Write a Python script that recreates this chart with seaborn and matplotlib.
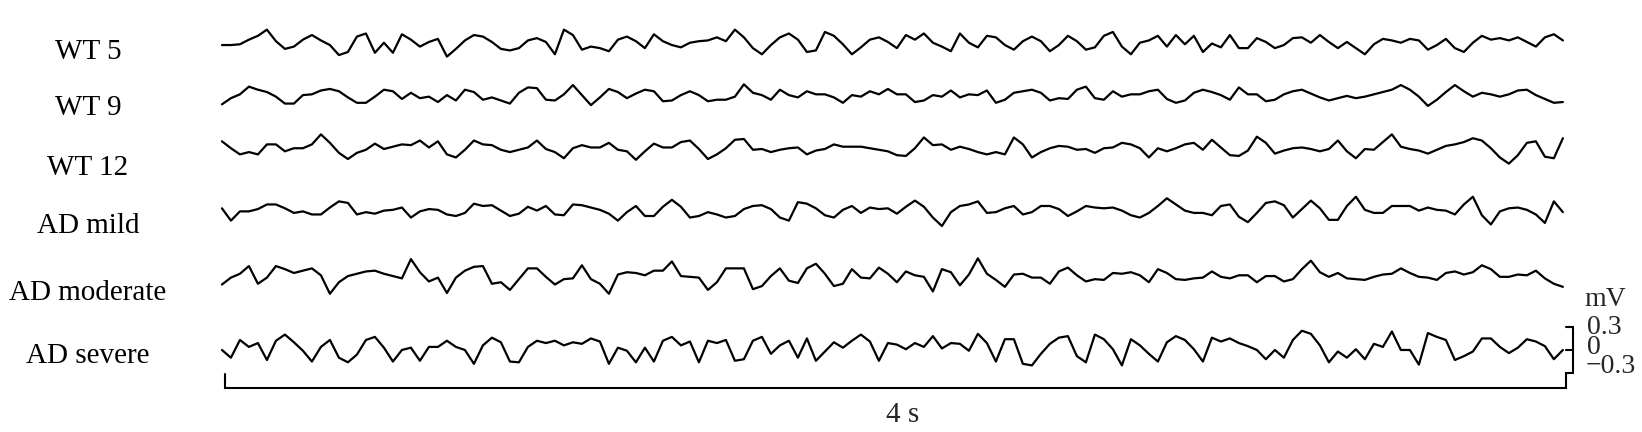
"""
EEG example traces (WT vs AD), 4 s window, with mV / time scale bars.
"""
import matplotlib
matplotlib.use("Agg")
import matplotlib.pyplot as plt
import numpy as np
import pandas as pd
import seaborn as sns

# ---- data (mV), one value every ~27 ms ----
labels = ["WT 5", "WT 9", "WT 12", "AD mild", "AD moderate", "AD severe"]

wt5 = [-0.03, -0.03, -0.02, 0.04, 0.09, 0.17, 0.02, -0.08, -0.05, 0.04, 0.10, 0.03, -0.03, -0.16, -0.12, 0.08, 0.12, -0.13, 0.00, -0.13, 0.11, 0.04, -0.05, 0.01, 0.05,
       -0.18, -0.08, 0.03, 0.10, 0.08, 0.01, -0.08, -0.10, -0.07, 0.03, 0.06, 0.01, -0.15, 0.17, 0.10, -0.09, -0.05, -0.07, -0.11, 0.04, 0.08, 0.02, -0.07, 0.11, 0.02,
       -0.03, -0.06, 0.00, 0.02, 0.03, 0.07, 0.02, 0.17, 0.07, -0.07, -0.15, -0.03, 0.07, 0.12, 0.04, -0.12, -0.10, 0.14, 0.09, -0.02, -0.15, -0.06, 0.04, 0.07, 0.01, -0.07,
       0.10, 0.04, 0.12, 0.00, -0.05, -0.11, 0.12, 0.00, -0.06, 0.09, 0.07, -0.03, -0.09, 0.02, 0.08, 0.02, -0.11, -0.03, 0.09, 0.02, -0.09, -0.06, 0.09, 0.14, -0.05,
       -0.15, 0.00, 0.03, 0.09, -0.05, 0.10, -0.02, 0.09, -0.12, -0.01, -0.06, 0.10, -0.07, -0.07, 0.06, 0.01, -0.07, -0.03, 0.06, 0.07, 0.00, 0.10, 0.01, -0.07, 0.01, -0.07,
       -0.15, -0.02, 0.05, 0.03, 0.00, 0.05, 0.03, -0.09, -0.03, 0.05, -0.07, -0.12, 0.00, 0.09, 0.04, 0.06, 0.03, 0.07, 0.01, -0.05, 0.07, 0.11, 0.03]

wt9 = [-0.10, -0.02, 0.03, 0.13, 0.09, 0.06, 0.00, -0.09, -0.09, 0.02, 0.03, 0.08, 0.10, 0.07, -0.01, -0.08, -0.08, 0.00, 0.09, 0.07, -0.03, 0.05, -0.02, 0.00, -0.07,
       0.02, -0.05, 0.09, 0.06, -0.04, -0.01, -0.05, -0.09, 0.05, 0.12, 0.11, -0.04, -0.05, 0.03, 0.15, 0.02, -0.11, -0.01, 0.10, 0.06, -0.02, 0.04, 0.09, 0.07, -0.06,
       -0.05, 0.02, 0.07, 0.02, -0.06, -0.04, -0.04, 0.00, 0.16, 0.05, 0.02, -0.04, 0.09, 0.02, -0.01, 0.07, 0.03, 0.03, -0.01, -0.08, 0.02, 0.00, 0.07, 0.03, 0.10, 0.03,
       0.03, -0.07, -0.05, 0.02, 0.00, 0.08, -0.01, 0.03, 0.02, 0.08, -0.08, -0.04, 0.05, 0.07, 0.09, 0.05, -0.05, -0.02, -0.03, 0.09, 0.13, -0.02, -0.04, 0.07, 0.00,
       0.03, 0.03, 0.07, 0.09, -0.03, -0.08, -0.05, 0.05, 0.09, 0.06, 0.02, -0.04, 0.12, 0.03, 0.03, -0.06, -0.04, 0.03, 0.07, 0.09, 0.04, -0.01, -0.05, -0.02, 0.01, -0.02,
       0.00, 0.03, 0.06, 0.09, 0.15, 0.09, 0.00, -0.12, -0.04, 0.06, 0.15, 0.07, 0.00, 0.05, 0.03, 0.00, 0.03, 0.08, 0.09, 0.02, -0.03, -0.08, -0.07]

wt12 = [0.07, -0.02, -0.10, -0.07, -0.10, 0.03, 0.03, -0.06, -0.02, -0.02, 0.03, 0.16, 0.05, -0.08, -0.16, -0.08, -0.04, 0.04, -0.03, 0.00, 0.03, 0.02, 0.08, -0.01, 0.07,
        -0.10, -0.14, -0.04, 0.08, 0.03, 0.02, -0.04, -0.07, -0.04, -0.01, 0.08, -0.03, -0.07, -0.15, -0.02, 0.02, -0.01, -0.01, 0.05, -0.04, -0.06, -0.17, -0.06, 0.04, -0.01,
        -0.01, 0.06, 0.08, -0.03, -0.16, -0.10, -0.02, 0.09, 0.10, -0.04, -0.03, -0.07, -0.04, -0.02, -0.01, -0.10, -0.05, -0.03, 0.03, 0.00, 0.00, 0.00, -0.02, -0.04, -0.06, -0.11,
        -0.12, -0.02, 0.12, 0.02, 0.03, -0.04, 0.00, -0.03, -0.07, -0.10, -0.07, -0.10, 0.12, 0.03, -0.14, -0.07, -0.02, 0.01, 0.00, -0.04, -0.03, -0.08, -0.02, -0.01, 0.05,
        0.03, -0.02, -0.14, -0.02, -0.06, -0.02, 0.03, 0.05, -0.04, 0.09, -0.01, -0.11, -0.12, -0.05, 0.13, 0.05, -0.09, -0.05, -0.02, -0.01, -0.03, -0.06, -0.03, 0.08, -0.06, -0.15,
        -0.03, -0.04, 0.06, 0.16, 0.00, -0.03, -0.05, -0.09, -0.04, 0.01, 0.03, 0.06, 0.11, 0.08, -0.02, -0.14, -0.22, -0.11, 0.05, 0.07, -0.13, -0.15, 0.11]

ad_mild = [0.03, -0.13, -0.01, -0.01, 0.02, 0.08, 0.08, 0.03, -0.03, -0.01, -0.05, -0.05, 0.04, 0.12, 0.10, -0.05, -0.02, -0.04, 0.00, 0.01, 0.04, -0.09, -0.01, 0.02, 0.01,
           -0.05, -0.07, -0.03, 0.09, 0.06, 0.07, 0.00, -0.07, -0.04, 0.05, 0.00, 0.06, -0.05, -0.06, 0.08, 0.07, 0.04, 0.01, -0.04, -0.13, -0.02, 0.06, -0.07, -0.07, 0.05,
           0.14, 0.05, -0.09, -0.07, -0.02, -0.05, -0.09, -0.07, 0.02, 0.06, 0.07, 0.02, -0.09, -0.13, 0.11, 0.09, 0.03, -0.06, -0.09, 0.01, 0.06, -0.03, 0.04, 0.02, 0.03, -0.04,
           0.05, 0.13, 0.05, -0.09, -0.20, -0.02, 0.06, 0.08, 0.12, -0.03, -0.02, 0.03, 0.06, -0.05, -0.02, 0.06, 0.06, 0.02, -0.07, -0.01, 0.06, 0.04, 0.03, 0.04, 0.00,
           -0.06, -0.09, -0.03, 0.06, 0.16, 0.08, 0.00, -0.03, -0.03, -0.06, 0.06, 0.08, -0.08, -0.15, -0.03, 0.10, 0.12, 0.07, -0.09, 0.02, 0.13, 0.03, -0.12, -0.12, 0.06, 0.18,
           0.01, -0.03, -0.03, 0.06, 0.06, 0.06, 0.00, 0.04, 0.01, 0.00, -0.05, 0.08, 0.18, -0.06, -0.18, -0.01, 0.03, 0.04, 0.01, -0.05, -0.16, 0.12, -0.02]

ad_moderate = [-0.12, -0.03, 0.02, 0.12, -0.11, -0.03, 0.12, 0.08, 0.03, 0.06, 0.09, 0.00, -0.24, -0.09, -0.01, 0.02, 0.05, 0.06, 0.02, -0.01, -0.04, 0.21, 0.04, -0.08, -0.03,
               -0.23, -0.03, 0.06, 0.11, 0.12, -0.11, -0.09, -0.19, -0.05, 0.09, 0.09, -0.02, -0.12, -0.05, -0.04, 0.13, -0.05, -0.11, -0.24, 0.01, 0.04, 0.03, 0.00, 0.06, 0.06,
               0.18, -0.01, -0.02, -0.03, -0.19, -0.09, 0.09, 0.09, 0.09, -0.18, -0.14, -0.01, 0.09, -0.07, -0.10, 0.09, 0.15, 0.02, -0.14, -0.11, 0.08, -0.03, -0.04, 0.10, 0.02, -0.09,
               0.05, 0.00, -0.02, -0.21, 0.08, 0.04, -0.13, 0.01, 0.22, 0.02, -0.06, -0.15, 0.01, 0.02, -0.03, -0.03, -0.11, 0.05, 0.10, 0.00, -0.08, -0.05, -0.06, 0.03, 0.02,
               0.04, 0.00, -0.09, 0.08, 0.03, -0.05, -0.06, -0.04, -0.03, 0.05, -0.02, -0.04, 0.00, 0.00, -0.09, -0.01, -0.01, -0.08, -0.05, 0.08, 0.19, 0.04, -0.02, 0.03, -0.04, -0.05,
               -0.06, -0.02, 0.01, 0.02, 0.09, 0.03, -0.02, -0.03, -0.06, 0.03, 0.05, 0.01, 0.04, 0.13, 0.08, -0.02, -0.02, 0.01, 0.00, 0.06, -0.04, -0.11, -0.15]

ad_severe = [0.00, -0.10, 0.13, 0.04, 0.09, -0.13, 0.12, 0.20, 0.10, -0.01, -0.15, 0.04, 0.13, -0.10, -0.16, -0.06, 0.13, 0.17, 0.03, -0.15, 0.00, 0.03, -0.14, 0.04, 0.04,
             0.12, 0.04, 0.00, -0.18, 0.06, 0.16, 0.10, -0.15, -0.16, 0.04, 0.12, 0.09, 0.12, 0.06, 0.10, 0.08, 0.15, 0.11, -0.18, 0.03, -0.01, -0.16, 0.03, -0.15, 0.12,
             0.17, 0.06, 0.11, -0.16, 0.12, 0.09, 0.13, -0.14, -0.12, 0.12, 0.17, -0.05, 0.06, 0.12, -0.10, 0.15, -0.14, -0.02, 0.10, 0.03, 0.12, 0.20, 0.11, -0.14, 0.09, 0.07,
             0.01, 0.09, 0.04, 0.18, 0.02, 0.09, 0.08, -0.01, 0.21, 0.09, -0.15, 0.14, 0.14, -0.18, -0.20, -0.05, 0.08, 0.16, 0.18, -0.08, -0.16, 0.20, 0.14, 0.01, -0.20,
             0.14, 0.06, -0.05, -0.15, 0.10, 0.18, 0.13, 0.01, -0.15, 0.16, 0.11, 0.15, 0.09, 0.05, 0.00, -0.12, 0.00, -0.10, 0.13, 0.25, 0.21, 0.06, -0.16, -0.02, -0.10, 0.01,
             -0.12, 0.08, 0.04, 0.24, 0.00, 0.00, -0.19, 0.22, 0.17, 0.13, -0.13, -0.08, -0.02, 0.15, 0.15, 0.04, -0.04, 0.03, 0.14, 0.11, 0.05, -0.12, 0.00]

series = [wt5, wt9, wt12, ad_mild, ad_moderate, ad_severe]
duration_s = 4.0

# ---- layout (vertical offset of each trace in mV, label positions) ----
TRACE_OFFSETS = [3.99, 3.29, 2.64, 1.81, 0.97, 0.0]
LABEL_Y = [3.87, 3.14, 2.36, 1.61, 0.74, -0.08]
LABEL_X = -0.40
FS = 21
FS_SCALE = 20

sns.set_theme(style="white")
plt.rcParams["font.family"] = ["Liberation Serif", "DejaVu Serif"]

frames = []
for name, vals, off in zip(labels, series, TRACE_OFFSETS):
    v = np.asarray(vals, dtype=float)
    frames.append(pd.DataFrame({
        "time": np.linspace(0, duration_s, len(v)),
        "mV": v + off,
        "trace": name,
    }))
df = pd.concat(frames, ignore_index=True)

fig = plt.figure(figsize=(16.42, 4.32), dpi=100)
ax = fig.add_axes([0, 0, 1, 1])
sns.lineplot(data=df, x="time", y="mV", hue="trace", units="trace", estimator=None,
             palette=["black"] * len(labels), legend=False, linewidth=1.6, ax=ax)

ax.set_xlim(-0.662, 4.236)
ax.set_ylim(-1.065, 4.545)
ax.axis("off")

for name, ly in zip(labels, LABEL_Y):
    ax.text(LABEL_X, ly, name, ha="center", va="center", fontsize=FS, color="black")

# time bar (4 s) joined to the voltage bar (0.3 mV)
x0, x1, xb = 0.009, 4.009, 4.03
ax.plot([x0, x0, x1, x1, xb, xb, x1], [-0.31, -0.494, -0.494, -0.30, -0.30, 0.30, 0.30],
        color="black", linewidth=1.5, solid_joinstyle="miter")
ax.plot([x1, xb], [0, 0], color="black", linewidth=1.5)

ax.text(2.031, -0.85, "4 s", ha="center", va="center", fontsize=FS)
ax.text(4.125, 0.66, "mV", ha="center", va="center", fontsize=FS_SCALE)
ax.text(4.072, 0.29, "0.3", ha="left", va="center", fontsize=FS_SCALE)
ax.text(4.072, 0.03, "0", ha="left", va="center", fontsize=FS_SCALE)
ax.text(4.068, -0.22, "\u22120.3", ha="left", va="center", fontsize=FS_SCALE)

fig.savefig("out.png", dpi=100)
